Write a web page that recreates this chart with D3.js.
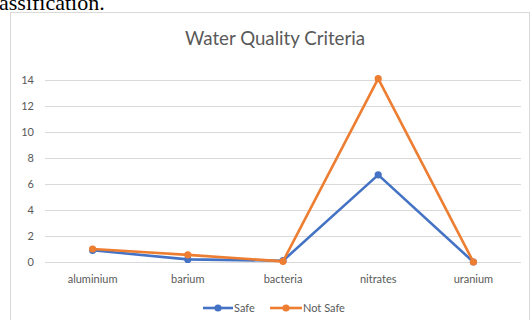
<!DOCTYPE html>
<html>
<head>
<meta charset="utf-8">
<script src="https://cdn.jsdelivr.net/npm/d3@7"></script>
<style>
  html, body { margin: 0; padding: 0; background: #fff; overflow: hidden; }
  svg { display: block; }
</style>
</head>
<body>
<svg id="chart" width="532" height="320"></svg>
<script>
// Water quality measurements per contaminant
const categories = ["aluminium", "barium", "bacteria", "nitrates", "uranium"];
const safeValues = [0.9, 0.2, 0.1, 6.7, 0.0];
const notSafeValues = [1.0, 0.55, 0.05, 14.1, 0.0];
const yTicks = [0, 2, 4, 6, 8, 10, 12, 14];
const seriesNames = ["Safe", "Not Safe"];
const seriesColors = ["#4472C4", "#ED7D31"];

const svg = d3.select("#chart");
const font = "Lato, 'Open Sans', sans-serif";

// Trailing text of the document paragraph above the chart
svg.append("text")
  .attr("x", -1).attr("y", 10)
  .attr("font-family", "'Liberation Serif', 'Times New Roman', serif")
  .attr("font-size", 22)
  .attr("fill", "#000")
  .text("assification.");

// Chart frame
svg.append("rect")
  .attr("x", 10.5).attr("y", 12.5)
  .attr("width", 519).attr("height", 320)
  .attr("fill", "#fff")
  .attr("stroke", "#d9d9d9");

// Title
svg.append("text")
  .attr("x", 275).attr("y", 44.5)
  .attr("text-anchor", "middle")
  .attr("font-family", font)
  .attr("font-size", 18.7)
  .attr("fill", "#595959")
  .text("Water Quality Criteria");

const plot = { left: 45, right: 521, top: 80, bottom: 262 };

const x = d3.scaleBand().domain(categories).range([plot.left, plot.right]);
const y = d3.scaleLinear().domain([0, 14]).range([plot.bottom, plot.top]);

// Gridlines
svg.append("g")
  .selectAll("line")
  .data(yTicks)
  .join("line")
  .attr("x1", plot.left).attr("x2", plot.right)
  .attr("y1", d => Math.round(y(d)) + 0.5)
  .attr("y2", d => Math.round(y(d)) + 0.5)
  .attr("stroke", "#d9d9d9")
  .attr("stroke-width", 1);

// Y axis labels
const yAxis = d3.axisLeft(y).tickValues(yTicks).tickSize(0).tickPadding(0);
const yg = svg.append("g").attr("transform", `translate(${plot.left - 11},0)`).call(yAxis);
yg.select(".domain").remove();
yg.selectAll("text")
  .attr("font-family", font)
  .attr("font-size", 11)
  .attr("fill", "#595959");

// X axis labels
const xAxis = d3.axisBottom(x).tickSize(0).tickPadding(0);
const xg = svg.append("g").attr("transform", `translate(0,${plot.bottom + 13})`).call(xAxis);
xg.select(".domain").remove();
xg.selectAll("text")
  .attr("font-family", font)
  .attr("font-size", 11)
  .attr("fill", "#595959");

// Series lines and markers
const line = d3.line()
  .x((d, i) => x(categories[i]) + x.bandwidth() / 2)
  .y(d => y(d));

const series = [safeValues, notSafeValues];
series.forEach((vals, s) => {
  const g = svg.append("g");
  g.append("path")
    .datum(vals)
    .attr("d", line)
    .attr("fill", "none")
    .attr("stroke", seriesColors[s])
    .attr("stroke-width", 2.6)
    .attr("stroke-linejoin", "round")
    .attr("stroke-linecap", "round");
  g.selectAll("circle")
    .data(vals)
    .join("circle")
    .attr("cx", (d, i) => x(categories[i]) + x.bandwidth() / 2)
    .attr("cy", d => y(d))
    .attr("r", 3.6)
    .attr("fill", seriesColors[s]);
});

// Legend
const legendItems = [
  { x: 203, w: 30 },
  { x: 270, w: 32 }
];
const legendY = 308;
legendItems.forEach((it, s) => {
  const g = svg.append("g");
  g.append("line")
    .attr("x1", it.x).attr("x2", it.x + it.w)
    .attr("y1", legendY).attr("y2", legendY)
    .attr("stroke", seriesColors[s])
    .attr("stroke-width", 2.6);
  g.append("circle")
    .attr("cx", it.x + it.w / 2).attr("cy", legendY)
    .attr("r", 3.6)
    .attr("fill", seriesColors[s]);
  g.append("text")
    .attr("x", it.x + it.w + 1).attr("y", legendY)
    .attr("dy", "0.35em")
    .attr("font-family", font)
    .attr("font-size", 11)
    .attr("fill", "#595959")
    .text(seriesNames[s]);
});
</script>
</body>
</html>
